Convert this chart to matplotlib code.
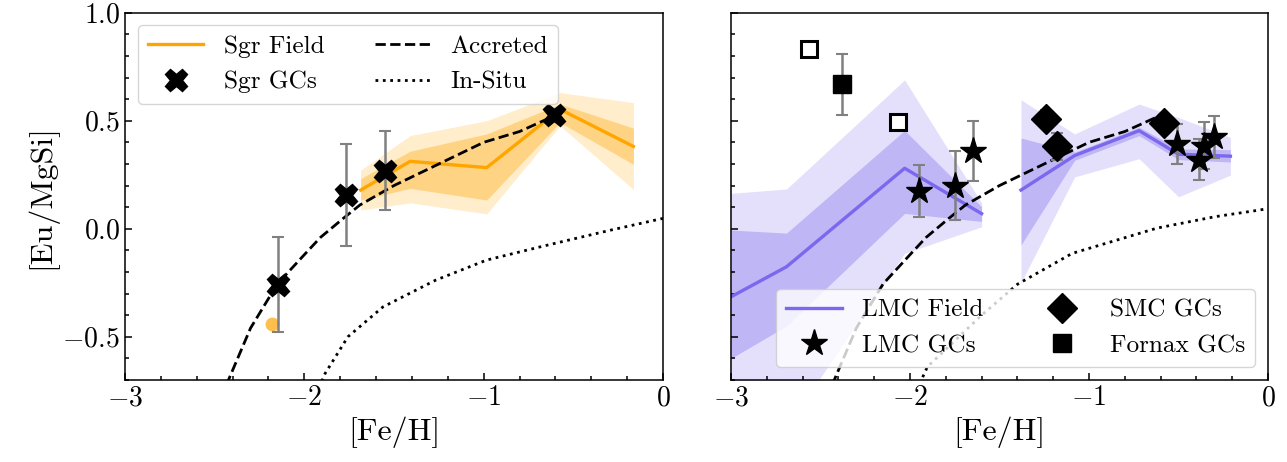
import numpy as np
import matplotlib
matplotlib.use("Agg")
import matplotlib.pyplot as plt
from matplotlib.ticker import MultipleLocator

plt.rcParams.update({
    "font.family": "serif",
    "font.serif": ["cmr10"],
    "mathtext.fontset": "cm",
    "axes.formatter.use_mathtext": True,
    "axes.linewidth": 1.1,
})

# ---------------- data ----------------
# Sgr field (binned median and bands)
sgr_x = [-1.686, -1.41, -0.983, -0.574, -0.165]
sgr_med = [0.179, 0.312, 0.283, 0.553, 0.381]
sgr_d_hi = [0.232, 0.359, 0.439, 0.577, 0.466]
sgr_d_lo = [0.133, 0.187, 0.133, 0.492, 0.298]
sgr_l_hi = [0.271, 0.431, 0.500, 0.630, 0.584]
sgr_l_lo = [0.087, 0.120, 0.069, 0.477, 0.182]
sgr_single_x = [-2.178]
sgr_single_y = [-0.442]

# Sgr GCs
sgrgc_feh = [-2.149, -1.767, -1.548, -0.609]
sgrgc_eu = [-0.26, 0.156, 0.269, 0.525]
sgrgc_err = [0.22, 0.235, 0.183, 0.03]

# Accreted / in-situ model tracks
acc_x = [-2.50, -2.30, -2.15, -2.00, -1.91, -1.78, -1.69, -1.50, -1.20, -1.00, -0.80, -0.60]
acc_y = [-0.85, -0.46, -0.255, -0.12, -0.04, 0.05, 0.11, 0.20, 0.32, 0.40, 0.45, 0.525]
insitu_l_x = [-1.95, -1.885, -1.757, -1.562, -1.268, -0.984, -0.681, -0.29, 0.0]
insitu_l_y = [-0.80, -0.671, -0.50, -0.362, -0.238, -0.145, -0.083, -0.006, 0.048]
insitu_r_x = [-1.98, -1.903, -1.60, -1.40, -1.094, -0.62, -0.295, -0.044, 0.0]
insitu_r_y = [-0.78, -0.639, -0.40, -0.257, -0.114, 0.003, 0.056, 0.087, 0.094]

# LMC field (two metallicity segments)
lmc1_x = [-3.0, -2.69, -2.03, -1.60]
lmc1_med = [-0.315, -0.176, 0.280, 0.070]
lmc1_d_hi = [-0.006, -0.020, 0.455, 0.102]
lmc1_d_lo = [-0.600, -0.450, 0.071, 0.034]
lmc1_l_hi = [0.164, 0.184, 0.689, 0.120]
lmc1_l_lo = [-1.100, -0.920, -0.114, 0.009]

lmc2_x = [-1.38, -1.08, -0.72, -0.50, -0.21]
lmc2_med = [0.179, 0.339, 0.454, 0.345, 0.336]
lmc2_d_hi = [0.420, 0.355, 0.470, 0.370, 0.366]
lmc2_d_lo = [-0.075, 0.317, 0.431, 0.320, 0.309]
lmc2_l_hi = [0.597, 0.439, 0.577, 0.515, 0.423]
lmc2_l_lo = [-0.250, 0.240, 0.324, 0.148, 0.248]

# LMC GCs
lmcgc_feh = [-1.950, -1.750, -1.650, -0.509, -0.383, -0.355, -0.299]
lmcgc_eu = [0.176, 0.200, 0.360, 0.393, 0.320, 0.385, 0.423]
lmcgc_err = [0.12, 0.16, 0.14, 0.093, 0.095, 0.11, 0.097]

# SMC GCs
smcgc_feh = [-1.238, -1.178, -0.580]
smcgc_eu = [0.508, 0.381, 0.488]
smcgc_err = [0.04, 0.062, 0.04]

# Fornax GCs
fnx_feh = [-2.378]
fnx_eu = [0.668]
fnx_err = [0.143]
fnx_open_feh = [-2.567, -2.067]
fnx_open_eu = [0.833, 0.492]

# ---------------- styles ----------------
ORANGE = "orange"
BLUE = "mediumslateblue"
FS_TICK = 20
FS_LABEL = 23
FS_LEG = 18.2

fig = plt.figure(figsize=(12.87, 4.62), dpi=100)
axL = fig.add_axes([125 / 1287, 82 / 462, 538 / 1287, 367.3 / 462])
axR = fig.add_axes([731 / 1287, 82 / 462, 537 / 1287, 367.3 / 462])

eb_kw = dict(fmt="none", ecolor="grey", elinewidth=1.8, capsize=4, capthick=1.5, zorder=4)

# ---- left panel ----
axL.fill_between(sgr_x, sgr_l_lo, sgr_l_hi, color=ORANGE, alpha=0.2, lw=0, zorder=1)
axL.fill_between(sgr_x, sgr_d_lo, sgr_d_hi, color=ORANGE, alpha=0.35, lw=0, zorder=1)
hL1, = axL.plot(sgr_x, sgr_med, color=ORANGE, lw=2.4, zorder=2, label="Sgr Field")
axL.plot(sgr_single_x, sgr_single_y, "o", color=ORANGE, alpha=0.7, ms=10, mew=0, zorder=2)
hL3, = axL.plot(acc_x, acc_y, "--", color="black", lw=2, zorder=3, label="Accreted")
hL4, = axL.plot(insitu_l_x, insitu_l_y, ":", color="black", lw=2, zorder=3, label="In-Situ")
axL.errorbar(sgrgc_feh, sgrgc_eu, yerr=sgrgc_err, **eb_kw)
hL2, = axL.plot(sgrgc_feh, sgrgc_eu, "X", color="black", ms=16, ls="none", zorder=5, label="Sgr GCs")
axL.legend(handles=[hL1, hL2, hL3, hL4], ncol=2, loc="upper left", fontsize=FS_LEG,
           handlelength=2.2)
axL.set_ylabel("[Eu/MgSi]", fontsize=FS_LABEL)

# ---- right panel ----
for xs, llo, lhi, dlo, dhi, med in [
    (lmc1_x, lmc1_l_lo, lmc1_l_hi, lmc1_d_lo, lmc1_d_hi, lmc1_med),
    (lmc2_x, lmc2_l_lo, lmc2_l_hi, lmc2_d_lo, lmc2_d_hi, lmc2_med),
]:
    axR.fill_between(xs, llo, lhi, color=BLUE, alpha=0.2, lw=0, zorder=1)
    axR.fill_between(xs, dlo, dhi, color=BLUE, alpha=0.35, lw=0, zorder=1)
    hR1, = axR.plot(xs, med, color=BLUE, lw=2.4, zorder=2, label="LMC Field")
axR.plot(acc_x, acc_y, "--", color="black", lw=2, zorder=3)
axR.plot(insitu_r_x, insitu_r_y, ":", color="black", lw=2, zorder=3)
axR.errorbar(lmcgc_feh, lmcgc_eu, yerr=lmcgc_err, **eb_kw)
axR.errorbar(smcgc_feh, smcgc_eu, yerr=smcgc_err, **eb_kw)
axR.errorbar(fnx_feh, fnx_eu, yerr=fnx_err, **eb_kw)
hR2, = axR.plot(lmcgc_feh, lmcgc_eu, "*", color="black", ms=20, ls="none", zorder=5, label="LMC GCs")
hR3, = axR.plot(smcgc_feh, smcgc_eu, "D", color="black", ms=15.5, ls="none", zorder=5, label="SMC GCs")
hR4, = axR.plot(fnx_feh, fnx_eu, "s", color="black", ms=13, ls="none", zorder=5, label="Fornax GCs")
axR.plot(fnx_open_feh, fnx_open_eu, "s", mfc="white", mec="black", mew=2.2, ms=12, ls="none", zorder=5)
axR.legend(handles=[hR1, hR2, hR3, hR4], ncol=2, loc="lower right", fontsize=FS_LEG,
           handlelength=2.2)

for ax in (axL, axR):
    ax.set_xlim(-3, 0)
    ax.set_ylim(-0.7, 1.0)
    ax.set_xticks([-3, -2, -1, 0])
    ax.set_yticks([-0.5, 0.0, 0.5, 1.0])
    ax.xaxis.set_minor_locator(MultipleLocator(0.2))
    ax.yaxis.set_minor_locator(MultipleLocator(0.1))
    ax.tick_params(which="both", direction="in", labelsize=FS_TICK, width=1.1)
    ax.tick_params(which="major", length=5)
    ax.tick_params(which="minor", length=3)
    ax.set_xlabel("[Fe/H]", fontsize=FS_LABEL)
axR.set_yticklabels([])

fig.savefig("out.png", dpi=100)
